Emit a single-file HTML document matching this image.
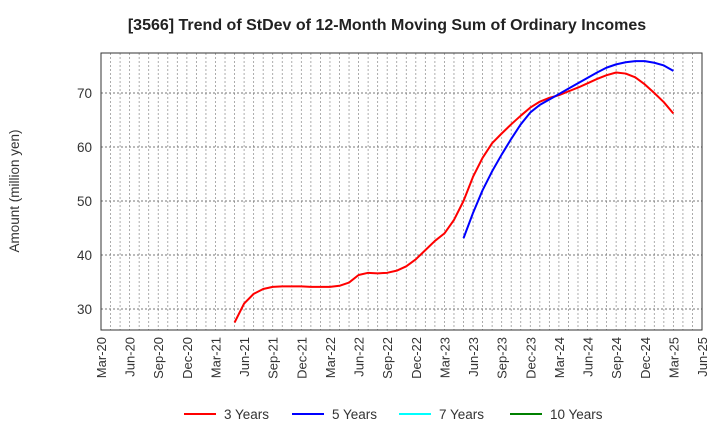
<!DOCTYPE html>
<html><head><meta charset="utf-8"><style>
body{margin:0;background:#fff;font-family:"Liberation Sans",sans-serif;}
</style></head><body>
<svg id="chart" width="720" height="440" xmlns="http://www.w3.org/2000/svg">
<text x="387" y="30" text-anchor="middle" font-size="16" font-weight="bold" fill="#222">[3566]  Trend of StDev of 12-Month Moving Sum of Ordinary Incomes</text>
<text transform="translate(19,191) rotate(-90)" text-anchor="middle" font-size="13.5" fill="#333">Amount (million yen)</text>
<g id="grid"></g><g id="axes"></g><g id="series"></g><g id="legend"></g>
</svg>
<script>
const xLabels=["Mar-20","Jun-20","Sep-20","Dec-20","Mar-21","Jun-21","Sep-21","Dec-21","Mar-22","Jun-22","Sep-22","Dec-22","Mar-23","Jun-23","Sep-23","Dec-23","Mar-24","Jun-24","Sep-24","Dec-24","Mar-25","Jun-25"];
const yTicks=[30,40,50,60,70];
const red3Start=14;
const red3=[27.5,31,32.8,33.7,34.1,34.2,34.2,34.2,34.1,34.1,34.1,34.3,34.9,36.3,36.7,36.6,36.7,37.1,37.9,39.2,40.9,42.6,44.0,46.5,50.0,54.5,58.0,60.7,62.5,64.2,65.8,67.3,68.4,69.1,69.6,70.3,71.0,71.8,72.6,73.3,73.8,73.6,72.9,71.6,70.0,68.3,66.2];
const blue5Start=38;
const blue5=[43.1,47.8,52.0,55.5,58.6,61.5,64.2,66.4,67.8,68.8,69.8,70.8,71.8,72.8,73.8,74.7,75.3,75.7,75.9,75.9,75.6,75.1,74.1];
const legendNames=["3 Years","5 Years","7 Years","10 Years"];
const legendColors=["#ff0000","#0000ff","#00ffff","#008000"];
const L=101,R=702,T=53,B=330,NM=63;
const xs=m=>L+(R-L)*m/NM;
const ys=v=>309-(v-30)*5.4;
const NS="http://www.w3.org/2000/svg";
function mk(t,a,p){const e=document.createElementNS(NS,t);for(const k in a)e.setAttribute(k,a[k]);p.appendChild(e);return e;}
const g=document.getElementById('grid'),ax=document.getElementById('axes'),sr=document.getElementById('series'),lg=document.getElementById('legend');
for(let m=1;m<NM;m++){const l=mk('line',{x1:xs(m),x2:xs(m),y1:T,y2:B,stroke:'#999','stroke-dasharray':'2,2','stroke-width':0.8},g);

}
yTicks.forEach(v=>{const l=mk('line',{x1:L,x2:R,y1:ys(v),y2:ys(v),stroke:'#777','stroke-dasharray':'2,2','stroke-width':0.9},g);


const t=mk('text',{x:L-9,y:ys(v)+5,'text-anchor':'end','font-size':13.5,fill:'#333'},ax);t.textContent=v;

});
const fr=mk('rect',{x:L,y:T,width:R-L,height:B-T,fill:'none',stroke:'#333','stroke-width':1},ax);


xLabels.forEach((s,i)=>{const x=xs(i*3);const t=mk('text',{transform:`translate(${x+5},${B+7}) rotate(-90)`,'text-anchor':'end','font-size':13,fill:'#333'},ax);t.textContent=s;

});
function line(data,start,color,name){const p=mk('polyline',{points:data.map((v,i)=>xs(start+i)+','+ys(v)).join(' '),fill:'none',stroke:color,'stroke-width':2,'stroke-linejoin':'round'},sr);

}
line(red3,red3Start,'#ff0000','series-3-years');
line(blue5,blue5Start,'#0000ff','series-5-years');
const lx=[184,292,399,510];
legendNames.forEach((n,i)=>{const l=mk('line',{x1:lx[i],x2:lx[i]+32,y1:414,y2:414,stroke:legendColors[i],'stroke-width':2},lg);


const t=mk('text',{x:lx[i]+40,y:419,'font-size':13.5,fill:'#333'},lg);t.textContent=n;

});
</script>
</body></html>
